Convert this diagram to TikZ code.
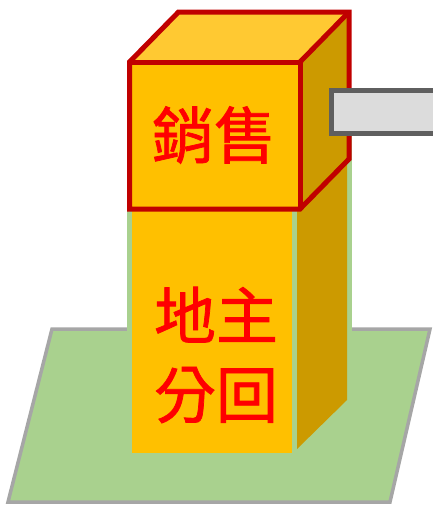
\documentclass[tikz,border=0pt]{standalone}
\usepackage{fontspec}
\newfontfamily\cjk[FakeBold=1.2]{Noto Sans CJK TC}
\definecolor{groundfill}{HTML}{A9D18E}
\definecolor{groundline}{HTML}{A6A6A6}
\definecolor{boxfront}{HTML}{FFC000}
\definecolor{boxtop}{HTML}{FFC932}
\definecolor{boxside}{HTML}{CC9A00}
\definecolor{boxline}{HTML}{C00000}
\definecolor{labelred}{HTML}{FF0000}
\definecolor{barfill}{HTML}{DCDCDC}
\definecolor{barline}{HTML}{5F5F5F}
\tikzset{
  ground/.style={fill=groundfill, draw=groundline, line width=3.5pt, line join=miter},
  cubeedge/.style={draw=boxline, line width=5pt, line join=miter},
  biglabel/.style={text=labelred, font=\cjk\fontsize{62}{79}\selectfont, align=center, inner sep=0pt},
}
\begin{document}
\begin{tikzpicture}[x=1pt,y=-1pt]
\useasboundingbox (0,0) rectangle (433,506);
\clip (0,0) rectangle (433,506);
% ground plate
\draw[ground] (52,329) -- (430,329) -- (390,502) -- (8,502) -- cycle;
% green backing behind the column
\fill[groundfill] (127,100) rectangle (352,336);
% lower column
\fill[boxside] (297,200) -- (347,150) -- (347,400) -- (297,449) -- cycle;
\fill[boxfront] (132,150) rectangle (292,453);
% upper cube: faces
\fill[boxtop] (129.5,62) -- (178.5,12) -- (349,12) -- (300,62) -- cycle;
\fill[boxside] (300,62) -- (349,12) -- (349,159) -- (300,209) -- cycle;
\fill[boxfront] (129.5,62) rectangle (300,209);
% upper cube: outline and inner edges
\draw[cubeedge] (129.5,209) -- (129.5,62) -- (178.5,12) -- (349,12) -- (349,159) -- (300,209) -- cycle;
\draw[cubeedge] (129.5,62) -- (300,62) -- (300,209);
\draw[cubeedge] (300,62) -- (349,12);
% bar on the right
\draw[fill=barfill, draw=barline, line width=5pt] (331.5,90.5) rectangle (445,133.5);
% labels
\node[biglabel] (sales) at (214,135) {銷售};
\node[biglabel] (landlord) at (216,355) {地主\\分回};
\end{tikzpicture}
\end{document}
